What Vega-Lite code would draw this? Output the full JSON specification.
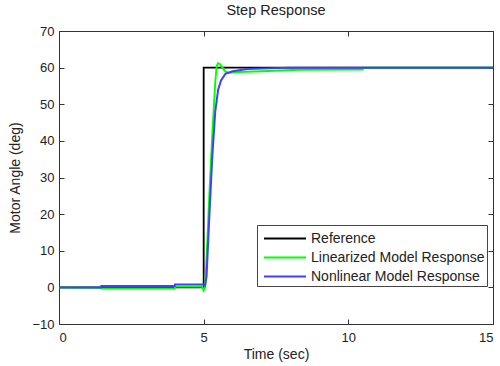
{
  "$schema": "https://vega.github.io/schema/vega-lite/v6.json",
  "width": 434,
  "height": 293,
  "autosize": "none",
  "padding": {"left": 59, "top": 31, "right": 7, "bottom": 42},
  "background": "white",
  "config": {
    "font": "Liberation Sans",
    "view": {"stroke": "#333333", "strokeWidth": 1},
    "axis": {"grid": false, "domainColor": "#333333", "tickColor": "#333333", "labelColor": "#222222", "titleColor": "#222222", "labelFontSize": 13, "titleFontSize": 14, "titleFontWeight": "normal", "labelFont": "Liberation Sans", "titleFont": "Liberation Sans"}
  },
  "title": {"text": "Step Response", "fontSize": 14.5, "fontWeight": "normal", "font": "Liberation Sans", "color": "#222222", "offset": 7, "anchor": "middle"},
  "data": {"values": [
    {"s": "Reference", "i": 0, "t": 0, "v": 0},
    {"s": "Reference", "i": 1, "t": 5, "v": 0},
    {"s": "Reference", "i": 2, "t": 5, "v": 60},
    {"s": "Reference", "i": 3, "t": 15, "v": 60},
    {"s": "Linearized Model Response", "i": 0, "t": 0, "v": 0},
    {"s": "Linearized Model Response", "i": 1, "t": 1.45, "v": -0.1},
    {"s": "Linearized Model Response", "i": 2, "t": 1.46, "v": -0.3},
    {"s": "Linearized Model Response", "i": 3, "t": 4.0, "v": -0.3},
    {"s": "Linearized Model Response", "i": 4, "t": 4.01, "v": 0.2},
    {"s": "Linearized Model Response", "i": 5, "t": 4.95, "v": 0.2},
    {"s": "Linearized Model Response", "i": 6, "t": 5.0, "v": -0.8},
    {"s": "Linearized Model Response", "i": 7, "t": 5.05, "v": 0},
    {"s": "Linearized Model Response", "i": 8, "t": 5.1, "v": 8},
    {"s": "Linearized Model Response", "i": 9, "t": 5.2, "v": 26},
    {"s": "Linearized Model Response", "i": 10, "t": 5.3, "v": 42},
    {"s": "Linearized Model Response", "i": 11, "t": 5.4, "v": 56},
    {"s": "Linearized Model Response", "i": 12, "t": 5.45, "v": 60.5},
    {"s": "Linearized Model Response", "i": 13, "t": 5.5, "v": 61.2},
    {"s": "Linearized Model Response", "i": 14, "t": 5.56, "v": 61},
    {"s": "Linearized Model Response", "i": 15, "t": 5.65, "v": 60},
    {"s": "Linearized Model Response", "i": 16, "t": 5.75, "v": 58.9},
    {"s": "Linearized Model Response", "i": 17, "t": 5.85, "v": 58.6},
    {"s": "Linearized Model Response", "i": 18, "t": 6.2, "v": 58.8},
    {"s": "Linearized Model Response", "i": 19, "t": 7.0, "v": 59.0},
    {"s": "Linearized Model Response", "i": 20, "t": 8.3, "v": 59.4},
    {"s": "Linearized Model Response", "i": 21, "t": 10.5, "v": 59.5},
    {"s": "Linearized Model Response", "i": 22, "t": 10.51, "v": 60},
    {"s": "Linearized Model Response", "i": 23, "t": 15, "v": 60},
    {"s": "Nonlinear Model Response", "i": 0, "t": 0, "v": 0},
    {"s": "Nonlinear Model Response", "i": 1, "t": 1.45, "v": 0},
    {"s": "Nonlinear Model Response", "i": 2, "t": 1.46, "v": 0.35},
    {"s": "Nonlinear Model Response", "i": 3, "t": 4.0, "v": 0.35},
    {"s": "Nonlinear Model Response", "i": 4, "t": 4.01, "v": 0.8},
    {"s": "Nonlinear Model Response", "i": 5, "t": 5.0, "v": 0.8},
    {"s": "Nonlinear Model Response", "i": 6, "t": 5.05, "v": 0.5},
    {"s": "Nonlinear Model Response", "i": 7, "t": 5.1, "v": 3},
    {"s": "Nonlinear Model Response", "i": 8, "t": 5.2, "v": 20},
    {"s": "Nonlinear Model Response", "i": 9, "t": 5.3, "v": 36},
    {"s": "Nonlinear Model Response", "i": 10, "t": 5.4, "v": 48},
    {"s": "Nonlinear Model Response", "i": 11, "t": 5.5, "v": 54},
    {"s": "Nonlinear Model Response", "i": 12, "t": 5.6, "v": 56.5},
    {"s": "Nonlinear Model Response", "i": 13, "t": 5.75, "v": 58.3},
    {"s": "Nonlinear Model Response", "i": 14, "t": 6.0, "v": 59},
    {"s": "Nonlinear Model Response", "i": 15, "t": 6.5, "v": 59.6},
    {"s": "Nonlinear Model Response", "i": 16, "t": 8.0, "v": 60},
    {"s": "Nonlinear Model Response", "i": 17, "t": 15, "v": 60}
  ]},
  "layer": [
    {
      "mark": {"type": "line", "clip": true},
      "encoding": {
        "x": {"field": "t", "type": "quantitative", "scale": {"domain": [0, 15], "nice": false}, "axis": {"title": "Time (sec)", "values": [0, 5, 10, 15], "tickSize": -5, "labelPadding": 12, "titlePadding": 3, "domain": false}},
        "y": {"field": "v", "type": "quantitative", "scale": {"domain": [-10, 70], "nice": false}, "axis": {"title": "Motor Angle (deg)", "values": [-10, 0, 10, 20, 30, 40, 50, 60, 70], "tickSize": -5, "labelPadding": 10, "titlePadding": 9, "domain": false}},
        "color": {"field": "s", "type": "nominal", "sort": ["Reference", "Linearized Model Response", "Nonlinear Model Response"],
          "scale": {"domain": ["Reference", "Linearized Model Response", "Nonlinear Model Response"], "range": ["#000000", "#00ff00", "#4040ff"]},
          "legend": {"title": null, "orient": "none", "legendX": 198, "legendY": 194, "symbolType": "M-1,0H3", "symbolSize": 441, "symbolStrokeWidth": 2, "labelFontSize": 14, "labelLimit": 0, "labelColor": "#222222", "strokeColor": "#444444", "fillColor": "white", "padding": 2, "rowPadding": 0, "columnPadding": 0, "labelOffset": 25, "symbolOffset": 4}},
        "strokeWidth": {"field": "s", "type": "nominal", "scale": {"domain": ["Reference", "Linearized Model Response", "Nonlinear Model Response"], "range": [1.8, 2, 0.9]}, "legend": null},
        "order": {"field": "i", "type": "quantitative"}
      }
    },
    {
      "mark": {"type": "line", "opacity": 0},
      "encoding": {
        "x": {"field": "t", "type": "quantitative", "axis": {"orient": "top", "title": null, "labels": false, "values": [0, 5, 10, 15], "tickSize": -5, "domain": false}},
        "y": {"field": "v", "type": "quantitative", "axis": {"orient": "right", "title": null, "labels": false, "values": [-10, 0, 10, 20, 30, 40, 50, 60, 70], "tickSize": -5, "domain": false}},
        "detail": {"field": "s"},
        "order": {"field": "i", "type": "quantitative"}
      }
    }
  ],
  "resolve": {"axis": {"x": "independent", "y": "independent"}}
}
